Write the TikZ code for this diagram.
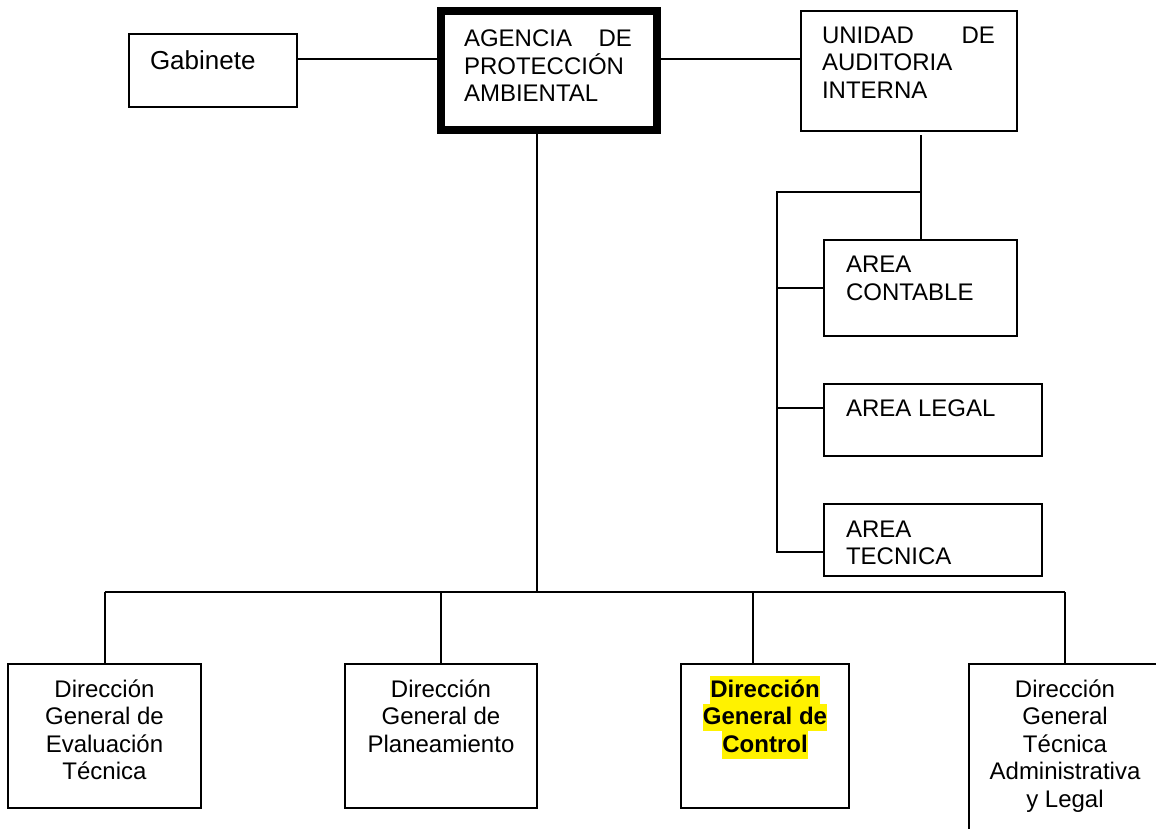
\documentclass[tikz,border=0pt]{standalone}
\usepackage{fontspec}
\setmainfont{Liberation Sans}
\usepackage{xcolor}
\newcommand\bodyfont{\fontsize{12pt}{13.75pt}\selectfont}
\newcommand\hlline[1]{\colorbox{yellow}{\rule[-3.25pt]{0pt}{13.75pt}#1}}
\begin{document}
\begin{tikzpicture}[x=0.5pt,y=-0.5pt,
  boxstyle/.style={draw=black, line width=1pt, inner sep=0pt, outer sep=0pt},
  thickbox/.style={draw=black, line width=4pt, inner sep=0pt, outer sep=0pt},
  txtstyle/.style={inner sep=0pt, outer sep=0pt, font=\bodyfont},
  conn/.style={draw=black, line width=1pt}]
\useasboundingbox (0,0) rectangle (1156,829);
\clip (0,0) rectangle (1156,829);
\fill[white] (0,0) rectangle (1156,829);

% boxes
\node[boxstyle, minimum width=84pt, minimum height=36.5pt] (gab) at (213,70.5) {};
\node[thickbox, minimum width=108pt, minimum height=59.5pt] (ag) at (549,70.5) {};
\node[boxstyle, minimum width=108pt, minimum height=60pt] (un) at (909,71) {};
\node[boxstyle, minimum width=96.5pt, minimum height=48pt] (con) at (920.5,288) {};
\node[boxstyle, minimum width=109pt, minimum height=36pt] (leg) at (933,420) {};
\node[boxstyle, minimum width=109pt, minimum height=36pt] (tec) at (933,540) {};
\node[boxstyle, minimum width=96.5pt, minimum height=72pt] (b1) at (104.5,736) {};
\node[boxstyle, minimum width=96pt, minimum height=72pt] (b2) at (441,736) {};
\node[boxstyle, minimum width=84pt, minimum height=72pt] (b3) at (765,736) {};
\node[boxstyle, minimum width=96pt, minimum height=103pt] (b4) at (1065,767) {};

% texts
\node[txtstyle, anchor=base west, font=\fontsize{13pt}{15pt}\selectfont] (gabt) at (150,70) {Gabinete};
\node[txtstyle, anchor=base west] (agt) at (464,46.7) {\parbox[t]{84pt}{\raggedright\makebox[84pt][l]{AGENCIA\hfill DE}\\PROTECCIÓN\\AMBIENTAL}};
\node[txtstyle, anchor=base west] (unt) at (822,43.5) {\parbox[t]{86.5pt}{\raggedright\makebox[86.5pt][l]{UNIDAD\hfill DE}\\AUDITORIA\\INTERNA}};
\node[txtstyle, anchor=base west] (cont) at (846,272.5) {\parbox[t]{80pt}{\raggedright AREA\\CONTABLE}};
\node[txtstyle, anchor=base west] (legt) at (846,416) {AREA LEGAL};
\node[txtstyle, anchor=base west] (tect) at (846,537) {\parbox[t]{80pt}{\raggedright AREA\\TECNICA}};
\node[txtstyle, anchor=base] (b1t) at (104.5,697) {\parbox[t]{94pt}{\centering Dirección\\General de\\Evaluación\\Técnica}};
\node[txtstyle, anchor=base] (b2t) at (441,697) {\parbox[t]{94pt}{\centering Dirección\\General de\\Planeamiento}};
\node[txtstyle, anchor=base] (b3t) at (765,697) {\parbox[t]{82pt}{\centering\bfseries\setlength\fboxsep{0pt}\hlline{Dirección}\\\hlline{General de}\\\hlline{Control}}};
\node[txtstyle, anchor=base] (b4t) at (1065,697) {\parbox[t]{94pt}{\centering Dirección\\General\\Técnica\\Administrativa\\y Legal}};

% connectors
\coordinate (r1) at (0,59);
\coordinate (sp) at (777,192);
\coordinate (tb) at (0,552);
\coordinate (lb) at (0,408);
\coordinate (av) at (537,0);
\coordinate (bus) at (0,592);
\draw[conn] (gab.east |- r1) -- (ag.west |- r1);
\draw[conn] (ag.east |- r1) -- (un.west |- r1);
\draw[conn] (con.north) -- ([yshift=-2pt]con.north |- un.south);
\draw[conn] (con.north |- sp) -- (sp) -- (sp |- tb) -- (tec.west |- tb);
\draw[conn] (sp |- con.west) -- (con.west);
\draw[conn] (sp |- lb) -- (leg.west |- lb);
\draw[conn] (ag.south -| av) -- (av |- bus);
\draw[conn] (b1.north |- bus) -- (b4.north |- bus);
\draw[conn] (b1.north |- bus) -- (b1.north);
\draw[conn] (b2.north |- bus) -- (b2.north);
\draw[conn] ([xshift=-6pt]b3.north |- bus) -- ([xshift=-6pt]b3.north);
\draw[conn] (b4.north |- bus) -- (b4.north);
\end{tikzpicture}
\end{document}
